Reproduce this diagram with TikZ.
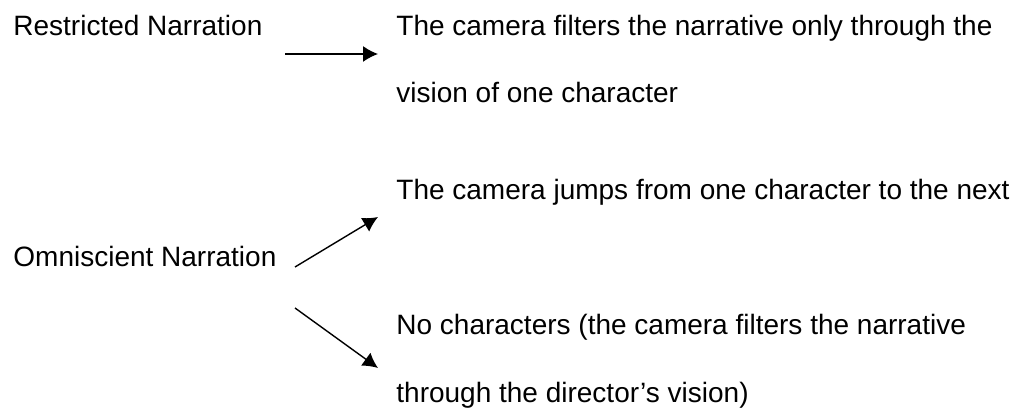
\documentclass[tikz,border=0pt]{standalone}
\usepackage{fontspec}
\setmainfont{Liberation Sans}
\usetikzlibrary{arrows.meta}

\tikzset{
  txt/.style={anchor=base west, inner sep=0pt},
  arr/.style={line width=0.7pt, -{Latex[length=7.5pt,width=8pt]}}
}

\begin{document}
\begin{tikzpicture}[x=0.5pt, y=-0.5pt, font=\fontsize{14}{16}\selectfont]
    \useasboundingbox (0,0) rectangle (1028,410);

    \coordinate (L0) at (13,36);
    \coordinate (L1) at (13,267);
    \coordinate (R0) at (396,36);
    \coordinate (R1) at (396,103);
    \coordinate (R2) at (396,200);
    \coordinate (R3) at (396,335);
    \coordinate (R4) at (396,403);

    \coordinate (A0) at (285,54);
    \coordinate (A1) at (378,54);
    \coordinate (A2) at (295,267);
    \coordinate (A3) at (378,217);
    \coordinate (A4) at (295,308);
    \coordinate (A5) at (378,368);

    \node [txt] (restricted) at (L0) {Restricted Narration};
    \node [txt] (omniscient) at (L1) {Omniscient Narration};
    \node [txt] (filters) at (R0) {The camera filters the narrative only through the};
    \node [txt] (vision) at (R1) {vision of one character};
    \node [txt] (jumps) at (R2) {The camera jumps from one character to the next};
    \node [txt] (nochar) at (R3) {No characters (the camera filters the narrative};
    \node [txt] (director) at (R4) {through the director’s vision)};

    \draw [arr] (A0) -- (A1);
    \draw [arr] (A2) -- (A3);
    \draw [arr] (A4) -- (A5);
\end{tikzpicture}
\end{document}
